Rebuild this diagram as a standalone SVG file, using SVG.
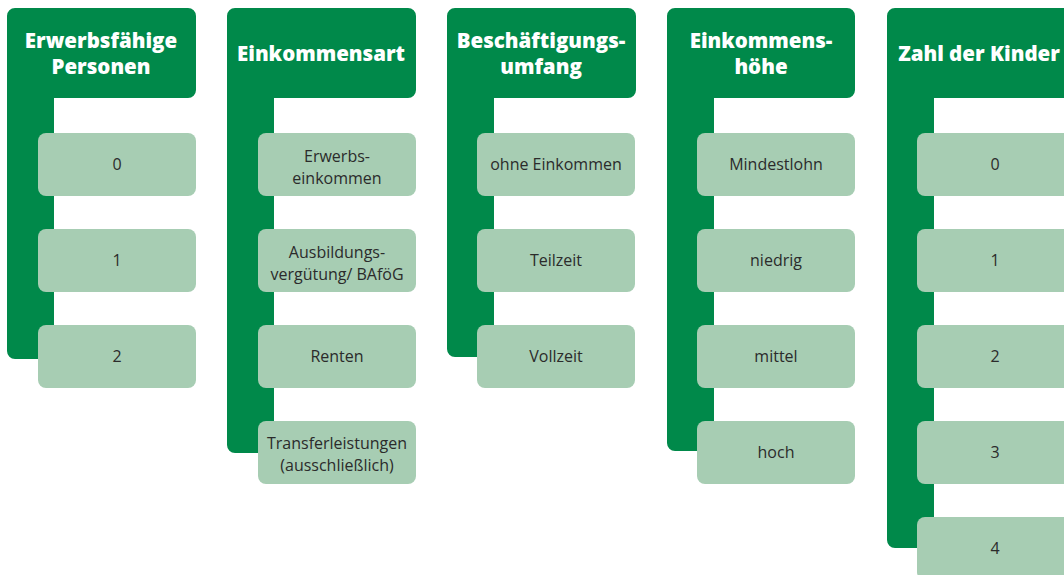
<svg xmlns="http://www.w3.org/2000/svg" width="1064" height="575" viewBox="0 0 1064 575">
<style>
.hdr{fill:#00894A}
.box{fill:#A7CDB3}
.ht{font-family:"Open Sans","Liberation Sans",sans-serif;font-weight:800;font-size:20.5px;fill:#fff;text-anchor:middle}
.bt{font-family:"Open Sans","Liberation Sans",sans-serif;font-size:16px;fill:#2b2b2b;text-anchor:middle}
</style>
<rect width="1064" height="575" fill="#fff"/>
<g id="connectors"/>
<g id="col1">
<path class="hdr" d="M7,16 A8,8 0 0 1 15,8 H188 A8,8 0 0 1 196,16 V90 A8,8 0 0 1 188,98 H54 V359 H15 A8,8 0 0 1 7,351 Z"/>
<text class="ht" x="101" y="48">Erwerbsfähige</text>
<text class="ht" x="101" y="74">Personen</text>
<g id="c1b1"><rect class="box" x="38" y="133" width="158" height="63" rx="8"/><text class="bt" x="117" y="170">0</text></g>
<g id="c1b2"><rect class="box" x="38" y="229" width="158" height="63" rx="8"/><text class="bt" x="117" y="266">1</text></g>
<g id="c1b3"><rect class="box" x="38" y="325" width="158" height="63" rx="8"/><text class="bt" x="117" y="362">2</text></g>
</g>
<g id="col2">
<path class="hdr" d="M227,16 A8,8 0 0 1 235,8 H408 A8,8 0 0 1 416,16 V90 A8,8 0 0 1 408,98 H274 V453 H235 A8,8 0 0 1 227,445 Z"/>
<text class="ht" x="321" y="61">Einkommensart</text>
<g id="c2b1"><rect class="box" x="258" y="133" width="158" height="63" rx="8"/><text class="bt" x="337" y="162">Erwerbs-</text><text class="bt" x="337" y="184">einkommen</text></g>
<g id="c2b2"><rect class="box" x="258" y="229" width="158" height="63" rx="8"/><text class="bt" x="337" y="258">Ausbildungs-</text><text class="bt" x="337" y="280">vergütung/ BAföG</text></g>
<g id="c2b3"><rect class="box" x="258" y="325" width="158" height="63" rx="8"/><text class="bt" x="337" y="362">Renten</text></g>
<g id="c2b4"><rect class="box" x="258" y="421" width="158" height="63" rx="8"/><text class="bt" x="337" y="449">Transferleistungen</text><text class="bt" x="337" y="471">(ausschließlich)</text></g>
</g>
<g id="col3">
<path class="hdr" d="M447,16 A8,8 0 0 1 455,8 H628 A8,8 0 0 1 636,16 V90 A8,8 0 0 1 628,98 H494 V357 H455 A8,8 0 0 1 447,349 Z"/>
<text class="ht" x="541" y="48">Beschäftigungs-</text>
<text class="ht" x="541" y="74">umfang</text>
<g id="c3b1"><rect class="box" x="477" y="133" width="158" height="63" rx="8"/><text class="bt" x="556" y="170">ohne Einkommen</text></g>
<g id="c3b2"><rect class="box" x="477" y="229" width="158" height="63" rx="8"/><text class="bt" x="556" y="266">Teilzeit</text></g>
<g id="c3b3"><rect class="box" x="477" y="325" width="158" height="63" rx="8"/><text class="bt" x="556" y="362">Vollzeit</text></g>
</g>
<g id="col4">
<path class="hdr" d="M667,16 A8,8 0 0 1 675,8 H847 A8,8 0 0 1 855,16 V90 A8,8 0 0 1 847,98 H714 V451 H675 A8,8 0 0 1 667,443 Z"/>
<text class="ht" x="761" y="48">Einkommens-</text>
<text class="ht" x="761" y="74">höhe</text>
<g id="c4b1"><rect class="box" x="697" y="133" width="158" height="63" rx="8"/><text class="bt" x="776" y="170">Mindestlohn</text></g>
<g id="c4b2"><rect class="box" x="697" y="229" width="158" height="63" rx="8"/><text class="bt" x="776" y="266">niedrig</text></g>
<g id="c4b3"><rect class="box" x="697" y="325" width="158" height="63" rx="8"/><text class="bt" x="776" y="362">mittel</text></g>
<g id="c4b4"><rect class="box" x="697" y="421" width="158" height="63" rx="8"/><text class="bt" x="776" y="458">hoch</text></g>
</g>
<g id="col5">
<path class="hdr" d="M887,16 A8,8 0 0 1 895,8 H1068 A8,8 0 0 1 1076,16 V90 A8,8 0 0 1 1068,98 H934 V548 H895 A8,8 0 0 1 887,540 Z"/>
<text class="ht" x="979" y="61">Zahl der Kinder</text>
<g id="c5b1"><rect class="box" x="917" y="133" width="158" height="63" rx="8"/><text class="bt" x="995" y="170">0</text></g>
<g id="c5b2"><rect class="box" x="917" y="229" width="158" height="63" rx="8"/><text class="bt" x="995" y="266">1</text></g>
<g id="c5b3"><rect class="box" x="917" y="325" width="158" height="63" rx="8"/><text class="bt" x="995" y="362">2</text></g>
<g id="c5b4"><rect class="box" x="917" y="421" width="158" height="63" rx="8"/><text class="bt" x="995" y="458">3</text></g>
<g id="c5b5"><rect class="box" x="917" y="517" width="158" height="63" rx="8"/><text class="bt" x="995" y="554">4</text></g>
</g>
</svg>
